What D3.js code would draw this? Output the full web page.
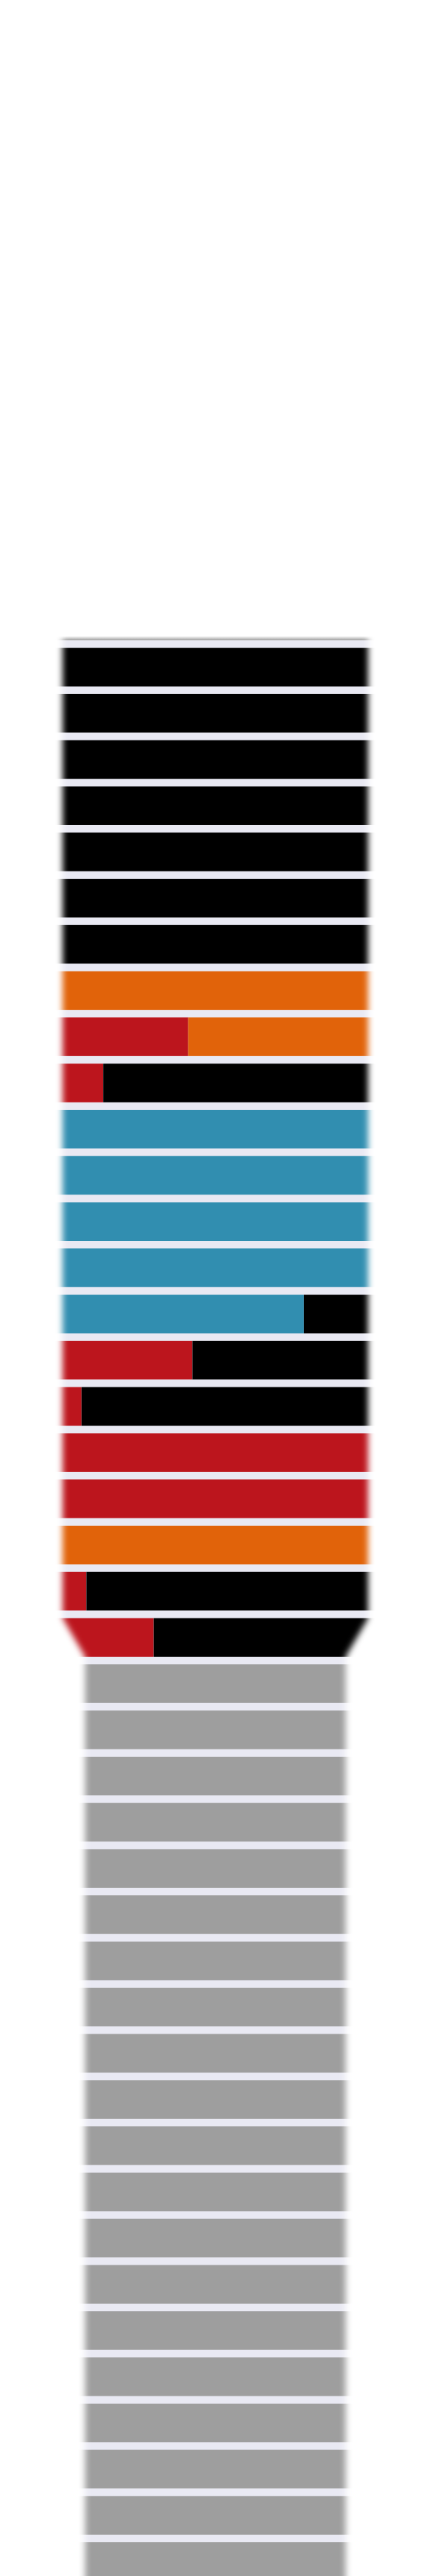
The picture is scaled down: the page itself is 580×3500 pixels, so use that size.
<!DOCTYPE html>
<html>
<head>
<meta charset="utf-8">
<script src="https://cdn.jsdelivr.net/npm/d3@7"></script>
<style>
  html, body { margin: 0; padding: 0; background: #ffffff; }
  svg { display: block; }
</style>
</head>
<body>
<svg id="chart" width="580" height="3500"></svg>
<script>
// ---- data (one entry per row, top to bottom) ----
const rowIds = [1,2,3,4,5,6,7,8,9,10,11,12,13,14,15,16,17,18,19,20,21,22,
                23,24,25,26,27,28,29,30,31,32,33,34,35,36,37,38,39,40,41,42];
const seriesKeys = ["red", "blue", "orange", "black", "gray"];
const red    = [0,0,0,0,0,0,0,0,41.1,13.3,0,0,0,0,0,42.5,6.2,100,100,0,7.8,29.8,
                0,0,0,0,0,0,0,0,0,0,0,0,0,0,0,0,0,0,0,0];
const blue   = [0,0,0,0,0,0,0,0,0,0,100,100,100,100,79.0,0,0,0,0,0,0,0,
                0,0,0,0,0,0,0,0,0,0,0,0,0,0,0,0,0,0,0,0];
const orange = [0,0,0,0,0,0,0,100,58.9,0,0,0,0,0,0,0,0,0,0,100,0,0,
                0,0,0,0,0,0,0,0,0,0,0,0,0,0,0,0,0,0,0,0];
const black  = [100,100,100,100,100,100,100,0,0,86.7,0,0,0,0,21.0,57.5,93.8,0,0,0,92.2,70.2,
                0,0,0,0,0,0,0,0,0,0,0,0,0,0,0,0,0,0,0,0];
const gray   = [0,0,0,0,0,0,0,0,0,0,0,0,0,0,0,0,0,0,0,0,0,0,
                100,100,100,100,100,100,100,100,100,100,100,100,100,100,100,100,100,100,100,100];
const seriesColors = ["#bc151d", "#318eb0", "#e1630a", "#000000", "#9e9e9e"];

// ---- build table ----
const table = rowIds.map((id, i) => ({
  id, red: red[i], blue: blue[i], orange: orange[i], black: black[i], gray: gray[i]
}));
const stacked = d3.stack().keys(seriesKeys)(table);

// ---- layout ----
const W = 580, H = 3500;
const svg = d3.select("#chart");
const step = 62.78;
const y = d3.scaleBand().domain(rowIds)
  .range([875, 875 + rowIds.length * step])
  .paddingInner(0.164).paddingOuter(0.082);
const x = d3.scaleLinear().domain([0, 100]).range([85, 500]);
const narrowL = 115.5, narrowR = 469.5;
const color = d3.scaleOrdinal().domain(seriesKeys).range(seriesColors);

const defs = svg.append("defs");
const blur = defs.append("filter").attr("id", "edgeBlur")
  .attr("filterUnits", "userSpaceOnUse")
  .attr("x", 0).attr("y", 0).attr("width", W).attr("height", H + 200);
blur.append("feGaussianBlur").attr("stdDeviation", 4);

const neckRow = rowIds[21];
const neckTop = y(neckRow), neckBot = y(neckRow) + y.bandwidth();
const maskPath = d3.path();
maskPath.moveTo(x(0), 850);
maskPath.lineTo(x(100), 850);
maskPath.lineTo(x(100), neckTop);
maskPath.lineTo(narrowR, neckBot);
maskPath.lineTo(narrowR, H + 100);
maskPath.lineTo(narrowL, H + 100);
maskPath.lineTo(narrowL, neckBot);
maskPath.lineTo(x(0), neckTop);
maskPath.closePath();

const mask = defs.append("mask").attr("id", "shape")
  .attr("maskUnits", "userSpaceOnUse")
  .attr("x", 0).attr("y", 0).attr("width", W).attr("height", H + 200);
mask.append("path").attr("d", maskPath.toString())
  .attr("fill", "#fff").attr("filter", "url(#edgeBlur)");

const shade = defs.append("linearGradient").attr("id", "topShade")
  .attr("x1", 0).attr("y1", 0).attr("x2", 0).attr("y2", 1);
shade.append("stop").attr("offset", "0%").attr("stop-color", "#ffffff");
shade.append("stop").attr("offset", "100%").attr("stop-color", "#9a9a9a");

const g = svg.append("g").attr("mask", "url(#shape)");
const firstTop = y(rowIds[0]);
g.append("rect").attr("x", 0).attr("width", W)
  .attr("y", firstTop - 16).attr("height", 6).attr("fill", "url(#topShade)");
g.append("rect").attr("x", 0).attr("width", W)
  .attr("y", firstTop - 10).attr("height", H).attr("fill", "#e9e9f3");

g.selectAll("g.series").data(stacked).join("g")
  .attr("class", "series")
  .attr("fill", d => color(d.key))
  .selectAll("rect").data(d => d.filter(s => s[1] - s[0] > 0)).join("rect")
  .attr("x", d => d[0] === 0 ? 0 : x(d[0]))
  .attr("width", d => (d[1] === 100 ? W : x(d[1])) - (d[0] === 0 ? 0 : x(d[0])))
  .attr("y", d => y(d.data.id))
  .attr("height", y.bandwidth());
</script>
</body>
</html>
